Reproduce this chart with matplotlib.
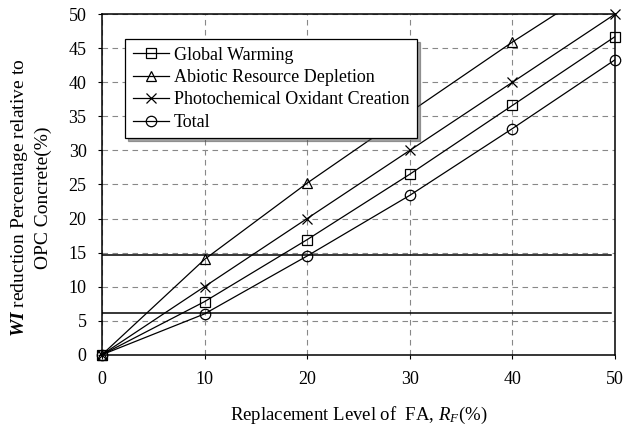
import numpy as np
import matplotlib
matplotlib.use("Agg")
import matplotlib.pyplot as plt

plt.rcParams['font.family'] = 'Liberation Serif'
plt.rcParams['mathtext.fontset'] = 'custom'
plt.rcParams['mathtext.rm'] = 'Liberation Serif'
plt.rcParams['mathtext.it'] = 'Liberation Serif:italic'
plt.rcParams['mathtext.bf'] = 'Liberation Serif:bold'
plt.rcParams['mathtext.bfit'] = 'Liberation Serif:italic:bold'

# replacement level of FA (%)
rf = [0, 10, 20, 30, 40, 50]
global_warming = [0, 7.8, 16.9, 26.5, 36.6, 46.7]
abiotic = [0, 14.0, 25.2, 35.6, 45.9, 55.6]
photochem = [0, 10.0, 20.0, 30.0, 40.0, 50.0]
total = [0, 6.0, 14.5, 23.4, 33.2, 43.3]
ref_levels = [14.7, 6.2]

fig = plt.figure(figsize=(6.25, 4.29), dpi=100)
ax = fig.add_axes([0.163, 0.173, 0.821, 0.794])

ax.grid(True, color='#888888', linestyle=(0, (5, 4)), linewidth=0.8)
ax.set_axisbelow(True)

for lv in ref_levels:
    ax.axhline(lv, xmin=0, xmax=0.993, color='black', linewidth=1.1, zorder=2)

series = [
    (global_warming, 's', 'Global Warming'),
    (abiotic, '^', 'Abiotic Resource Depletion'),
    (photochem, 'x', 'Photochemical Oxidant Creation'),
    (total, 'o', 'Total'),
]
for vals, m, lab in series:
    ax.plot(rf, vals, color='black', linewidth=0.9, zorder=3)
    # markers not clipped at the axes edge, but only those inside the y range
    xs = [x for x, y in zip(rf, vals) if y <= 50.5]
    ys = [y for y in vals if y <= 50.5]
    ax.plot(xs, ys, linestyle='none', marker=m, markersize=7.5,
            markerfacecolor='none', markeredgecolor='black',
            markeredgewidth=0.9, clip_on=False, zorder=4)
    ax.plot([], [], color='black', linewidth=0.9, marker=m, markersize=7.5,
            markerfacecolor='none', markeredgecolor='black',
            markeredgewidth=0.9, label=lab)

ax.set_xlim(0, 50)
ax.set_ylim(0, 50)
ax.set_xticks(np.arange(0, 51, 10))
ax.set_yticks(np.arange(0, 51, 5))
ax.tick_params(labelsize=13, length=3, color='black')
ax.tick_params(axis='x', pad=9)
ax.tick_params(axis='y', pad=8)
for s in ax.spines.values():
    s.set_linewidth(1.1)

ax.set_xlabel('Replacement Level of  FA, $R_F$(%)', fontsize=13.5, labelpad=12)
ax.set_ylabel('$\\mathbfit{WI}$ reduction Percentage relative to\nOPC Concrete(%)',
              fontsize=14, linespacing=1.38)
ax.yaxis.set_label_coords(-0.097, 0.46)

leg = ax.legend(loc='upper left', bbox_to_anchor=(0.045, 0.927), borderaxespad=0,
                fontsize=13, frameon=True, fancybox=False, shadow=True,
                edgecolor='black', handlelength=2.0, handletextpad=0.3,
                labelspacing=0.3, borderpad=0.42)
leg.get_frame().set_linewidth(0.9)
leg.set_zorder(6)

fig.savefig('out.png', dpi=100)
